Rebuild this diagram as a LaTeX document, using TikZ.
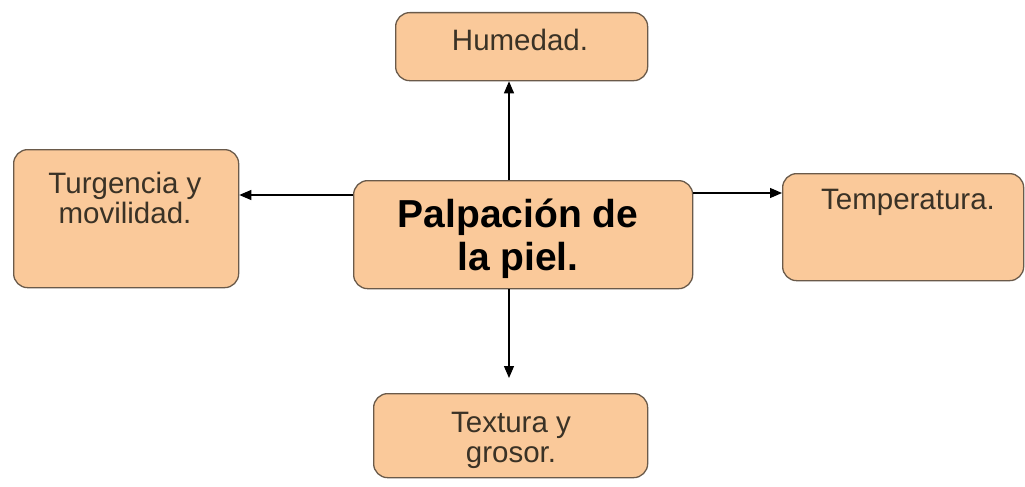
\documentclass[tikz,border=0pt]{standalone}
\usepackage{fontspec}
\setmainfont{Liberation Sans}
\usetikzlibrary{arrows.meta}
\definecolor{boxfill}{HTML}{FAC99A}
\definecolor{boxline}{HTML}{6A5A4A}
\definecolor{txt}{HTML}{3A3226}
\tikzset{
  box/.style={draw=boxline, fill=boxfill, line width=1.3pt, rounded corners=14pt, inner sep=0pt, anchor=north west},
  lbl/.style={align=center, text=txt, font=\fontsize{29.5}{30}\selectfont, inner sep=0pt},
  big/.style={align=center, text=black, font=\fontsize{39}{43}\selectfont\bfseries, inner sep=0pt},
  arr/.style={draw=black, line width=1.2pt, -{Triangle[length=12pt,width=10pt]}}
}
\begin{document}
\begin{tikzpicture}[x=1pt,y=-1pt]
\useasboundingbox[fill=white] (0,0) rectangle (1025,487);
\node[box, minimum width=252pt, minimum height=68pt] (hum) at (395,12) {};
\node[box, minimum width=225pt, minimum height=138pt] (turg) at (13,149) {};
\node[box, minimum width=339pt, minimum height=108pt] (cen) at (353,180) {};
\node[box, minimum width=241pt, minimum height=107pt] (temp) at (782,173) {};
\node[box, minimum width=274pt, minimum height=84pt] (tex) at (373,393) {};
\node[lbl] (humt) at (520,40) {Humedad.};
\node[lbl] (turgt) at (125,198) {Turgencia y\\movilidad.};
\node[big] (cent) at (518,239) {Palpación de\\la piel.};
\node[lbl] (tempt) at (908,202) {Temperatura.};
\node[lbl] (text) at (511,440) {Textura y\\grosor.};
\coordinate (vx) at (509,0);
\coordinate (hy) at (0,195);
\coordinate (hy2) at (0,193);
\draw[arr] (cen.north -| vx) -- (hum.south -| vx);
\draw[arr, shorten >=15pt] (cen.south -| vx) -- (tex.north -| vx);
\draw[arr] (cen.west |- hy) -- (turg.east |- hy);
\draw[arr] (cen.east |- hy2) -- (temp.west |- hy2);
\end{tikzpicture}
\end{document}
